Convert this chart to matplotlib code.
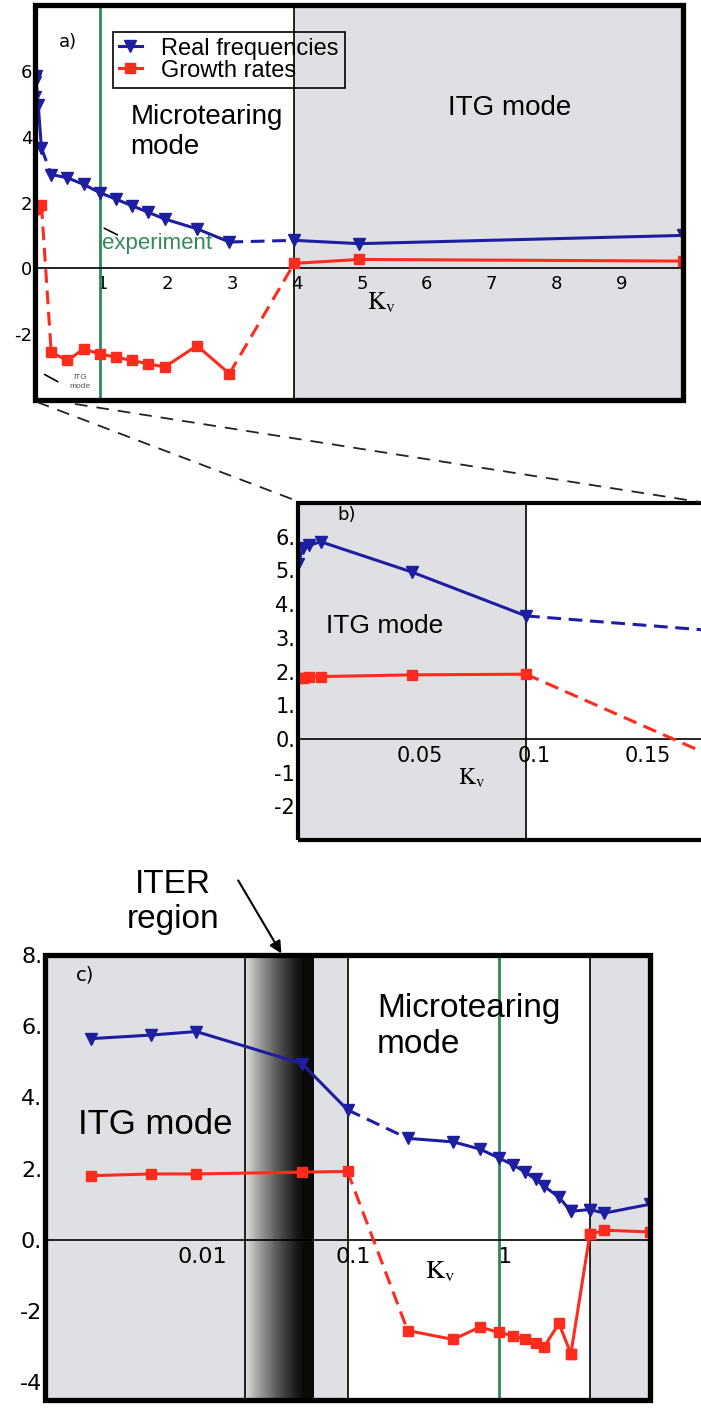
import numpy as np
import matplotlib
matplotlib.use('Agg')
import matplotlib.pyplot as plt
from matplotlib.lines import Line2D
from matplotlib.patches import Rectangle
from matplotlib.ticker import NullLocator
from matplotlib.transforms import ScaledTranslation

plt.rcParams['mathtext.fontset'] = 'stix'
plt.rcParams['font.family'] = ['DejaVu Sans']

# ---------------- data ----------------
k_v = [0.0, 0.002, 0.005, 0.01, 0.05, 0.1, 0.25, 0.5, 0.75, 1.0, 1.25, 1.5,
       1.75, 2.0, 2.5, 3.0, 4.0, 5.0, 10.0]
real_freq = [5.2, 5.65, 5.75, 5.85, 4.95, 3.65, 2.85, 2.75, 2.55, 2.3, 2.1, 1.9,
             1.7, 1.5, 1.2, 0.8, 0.85, 0.75, 1.0]
growth = [1.8, 1.8, 1.85, 1.85, 1.9, 1.92, -2.55, -2.8, -2.45, -2.6, -2.7, -2.8,
          -2.9, -3.0, -2.35, -3.2, 0.15, 0.27, 0.22]

k_experiment = 1.0
itg_mt_boundary = 0.1
mt_itg_boundary = 4.0
iter_lo, iter_dark, iter_hi = 0.021, 0.05, 0.06

a_yticks = [-2, 0, 2, 4, 6]
a_xticks = [1, 2, 3, 4, 5, 6, 7, 8, 9]
b_yticks = [-2, -1, 0, 1, 2, 3, 4, 5, 6]
b_ylabels = ['-2', '-1', '0.', '1.', '2.', '3.', '4.', '5.', '6.']
b_xticks = [0.05, 0.1, 0.15]
b_xlabels = ['0.05', '0.1', '0.15']
c_yticks = [-4, -2, 0, 2, 4, 6, 8]
c_ylabels = ['-4', '-2', '0.', '2.', '4.', '6.', '8.']
c_xticks = [0.01, 0.1, 1]
c_xlabels = ['0.01', '0.1', '1']

BLUE = '#1e1ea0'
RED = '#ff2b1c'
GREEN = '#2e8b57'
GRAY = '#dfe0e3'

W, H = 701, 1409
fig = plt.figure(figsize=(W / 100, H / 100), dpi=100)
fig.patch.set_facecolor('white')


def px_axes(x0, y0, x1, y1):
    return fig.add_axes([x0 / W, 1 - y1 / H, (x1 - x0) / W, (y1 - y0) / H])


def style_axes(ax, lw_frame, tick_fs):
    for s in ['top', 'right', 'left']:
        ax.spines[s].set_visible(False)
    ax.spines['bottom'].set_position(('data', 0))
    ax.spines['bottom'].set_linewidth(1.2)
    ax.spines['bottom'].set_zorder(4)
    ax.tick_params(axis='both', length=0, labelsize=tick_fs)
    ax.tick_params(axis='x', pad=5)
    ax.tick_params(axis='y', pad=2)
    ax.add_patch(Rectangle((0, 0), 1, 1, transform=ax.transAxes, fill=False,
                           lw=lw_frame, ec='k', clip_on=False, zorder=10))


def shift_xlabels(ax, dx_px):
    off = ScaledTranslation(dx_px / 100, 0, fig.dpi_scale_trans)
    for lab in ax.get_xticklabels():
        lab.set_transform(lab.get_transform() + off)


def draw_series(ax, second_gap_dashed=True, ms=7, start=0):
    seg_solid = [(start, 6), (6, 16), (16, 19)]
    seg_dash = [(5, 7)]
    if second_gap_dashed:
        seg_dash.append((15, 17))
    else:
        seg_solid.append((15, 17))
    for y, c, m, msz in [(real_freq, BLUE, 'v', ms + 1), (growth, RED, 's', ms)]:
        for a, b in seg_solid:
            ax.plot(k_v[a:b], y[a:b], color=c, lw=2.2, marker=m, ms=msz,
                    mec=c, zorder=5)
        for a, b in seg_dash:
            ax.plot(k_v[a:b], y[a:b], color=c, lw=2.2, ls=(0, (4.5, 2.5)), zorder=5)


# ---------------- panel a ----------------
ax = px_axes(35, 5, 683, 400)
ax.set_xlim(0, 10)
ax.set_ylim(-4, 8)
style_axes(ax, 3.8, 13)
ax.axvspan(mt_itg_boundary, 10, color=GRAY, lw=0, zorder=0)
ax.axvline(mt_itg_boundary, color='k', lw=1.2, zorder=3)
ax.axvline(k_experiment, color=GREEN, lw=2, zorder=3)
draw_series(ax, True, ms=7)
ax.set_xticks(a_xticks)
ax.set_xticklabels([str(t) for t in a_xticks])
ax.set_yticks(a_yticks)
ax.set_yticklabels([str(t) for t in a_yticks])
shift_xlabels(ax, 3)
ax.text(0.535, 0.245, r'$\mathrm{K}_\mathrm{v}$', transform=ax.transAxes,
        fontsize=18, ha='center', va='center')
ax.text(0.051, 0.906, 'a)', transform=ax.transAxes, fontsize=13,
        ha='center', va='center')
ax.text(0.147, 0.75, 'Microtearing\nmode', transform=ax.transAxes,
        fontsize=20, family='Liberation Sans', ha='left', va='top',
        linespacing=1.2)
ax.text(0.733, 0.739, 'ITG mode', transform=ax.transAxes, fontsize=20,
        family='Liberation Sans', ha='center', va='center')
ax.text(0.103, 0.395, 'experiment', transform=ax.transAxes, fontsize=16,
        family='Liberation Sans', color=GREEN, ha='left', va='center')
ax.annotate('', xy=(0.103, 0.438), xytext=(0.131, 0.415),
            xycoords='axes fraction', textcoords='axes fraction',
            arrowprops=dict(arrowstyle='-', color='k', lw=1.2))
ax.text(0.069, 0.046, 'ITG\nmode', transform=ax.transAxes, fontsize=6,
        family='Liberation Sans', color='#555555', ha='center', va='center',
        linespacing=1.3)
ax.annotate('', xy=(0.011, 0.068), xytext=(0.039, 0.043),
            xycoords='axes fraction', textcoords='axes fraction',
            arrowprops=dict(arrowstyle='-', color='k', lw=1.2))
handles = [Line2D([], [], color=BLUE, lw=2.2, marker='v', ms=8),
           Line2D([], [], color=RED, lw=2.2, marker='s', ms=7)]
leg = ax.legend(handles, ['Real frequencies', 'Growth rates'], loc='upper left',
                bbox_to_anchor=(0.12, 0.932), borderaxespad=0, frameon=True,
                fancybox=False, edgecolor='k',
                labelspacing=0.0, handlelength=1.0, handletextpad=0.8,
                borderpad=0.25, prop={'family': 'Liberation Sans', 'size': 17})
leg.get_frame().set_linewidth(1.2)
leg.get_frame().set_facecolor('none')
leg.get_frame().set_alpha(1)
leg.set_zorder(11)

# zoom connector lines
for (x0, y0), (x1, y1) in [((37, 402), (297, 501)), ((75, 404), (700, 502))]:
    fig.add_artist(Line2D([x0 / W, x1 / W], [1 - y0 / H, 1 - y1 / H],
                          color='#222222', lw=1.3, ls=(0, (7, 5))))

# ---------------- panel b ----------------
ax = px_axes(298, 503, 722, 840)
ax.set_xlim(0, 424 / 2280)
ax.set_ylim(-3, 7)
style_axes(ax, 3, 15)
ax.axvspan(0, itg_mt_boundary, color=GRAY, lw=0, zorder=0)
ax.axvline(itg_mt_boundary, color='k', lw=1.2, zorder=3)
draw_series(ax, True, ms=7)
ax.set_xticks(b_xticks)
ax.set_xticklabels(b_xlabels)
ax.set_yticks(b_yticks)
ax.set_yticklabels(b_ylabels)
shift_xlabels(ax, 8)
ax.text(0.076, -1.15, r'$\mathrm{K}_\mathrm{v}$', fontsize=17,
        ha='center', va='center')
ax.text(0.0215, 6.65, 'b)', fontsize=13, ha='center', va='center')
ax.text(0.038, 3.35, 'ITG mode', fontsize=19, family='Liberation Sans',
        ha='center', va='center')

# ---------------- panel c ----------------
ax = px_axes(45, 955, 650, 1400)
ax.set_xscale('log')
ax.set_xlim(1e-3, 10)
ax.set_ylim(-4.5, 8)
style_axes(ax, 3.8, 16)
ax.axvspan(1e-3, itg_mt_boundary, color=GRAY, lw=0, zorder=0)
ax.axvspan(mt_itg_boundary, 10, color=GRAY, lw=0, zorder=0)
edges = np.logspace(np.log10(iter_lo), np.log10(iter_dark), 61)
for i in range(60):
    t = i / 59
    g = 0.86 * (1 - t) ** 1.2 + 0.06 * t
    ax.axvspan(edges[i], edges[i + 1], color=str(g), lw=0, zorder=1)
ax.axvspan(iter_dark, iter_hi, color='#0a0a0a', lw=0, zorder=1)
for xv in [iter_lo, itg_mt_boundary, mt_itg_boundary]:
    ax.axvline(xv, color='k', lw=1.2, zorder=3)
ax.axvline(k_experiment, color=GREEN, lw=2, zorder=3)
draw_series(ax, False, ms=7, start=1)
ax.xaxis.set_minor_locator(NullLocator())
ax.set_xticks(c_xticks)
ax.set_xticklabels(c_xlabels)
ax.set_yticks(c_yticks)
ax.set_yticklabels(c_ylabels)
shift_xlabels(ax, 6)
ax.text(0.653, 0.29, r'$\mathrm{K}_\mathrm{v}$', transform=ax.transAxes,
        fontsize=19, ha='center', va='center')
ax.text(0.066, 0.955, 'c)', transform=ax.transAxes, fontsize=14,
        ha='center', va='center')
ax.text(0.182, 0.62, 'ITG mode', transform=ax.transAxes, fontsize=25,
        family='Liberation Sans', ha='center', va='center')
ax.text(0.549, 0.915, 'Microtearing\nmode', transform=ax.transAxes,
        fontsize=24, family='Liberation Sans', ha='left', va='top',
        linespacing=1.2)
ax.text(0.212, 1.119, 'ITER\nregion', transform=ax.transAxes, fontsize=24,
        family='Liberation Sans', ha='center', va='center', linespacing=1.2,
        clip_on=False)
ax.annotate('', xy=(0.393, 0.998), xytext=(0.317, 1.173),
            xycoords='axes fraction', textcoords='axes fraction',
            arrowprops=dict(arrowstyle='-|>', color='k', lw=1.5,
                            mutation_scale=18), annotation_clip=False)

fig.savefig('out.png', dpi=100)
